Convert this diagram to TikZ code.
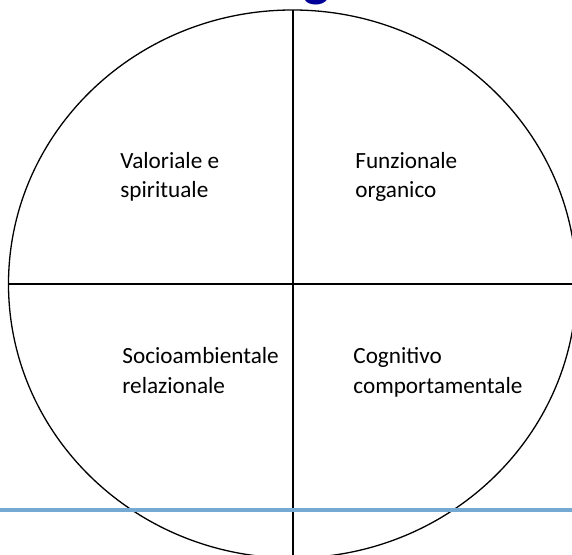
\documentclass[tikz,border=0pt]{standalone}
\usepackage{fontspec}
\setmainfont{Carlito}
\definecolor{rulerblue}{RGB}{116,169,212}
\definecolor{titleblue}{RGB}{0,0,153}

\begin{document}
\begin{tikzpicture}[x=0.5pt, y=-0.5pt,
    area/.style={anchor=base west, align=left, inner sep=0pt,
      font=\fontsize{11.6}{14.5}\selectfont},
    axis/.style={line width=1.1pt}]
  \useasboundingbox (0,0) rectangle (572,555);
  \clip (0,0) rectangle (572,555);

  % Cut-off title letter
  \node[titleblue, font=\fontsize{28}{28}\selectfont\bfseries, anchor=base]
    (titleg) at (317,-4) {g};

  % Circle
  \coordinate (O) at (292.5,284);
  \draw[line width=0.65pt] (O) ellipse [x radius=284, y radius=274];

  % Axes
  \coordinate (top) at (293,10);
  \coordinate (bottom) at (293,560);
  \coordinate (left) at (8,284);
  \coordinate (right) at (580,284);
  \draw[axis] (top) -- (bottom);
  \draw[axis] (left) -- (right);

  % Blue rule
  \coordinate (ruleL) at (0,510);
  \coordinate (ruleR) at (572,510);
  \draw[rulerblue, line width=1.6pt] (ruleL) -- (ruleR);

  % Area labels (anchored on the last line)
  \node[area] (valoriale) at (120,198) {Valoriale e\\spirituale};
  \node[area] (funzionale) at (355,198) {Funzionale\\organico};
  \node[area] (socio) at (122,393) {Socioambientale\\relazionale};
  \node[area] (cognitivo) at (353,393) {Cognitivo\\comportamentale};

\end{tikzpicture}
\end{document}
